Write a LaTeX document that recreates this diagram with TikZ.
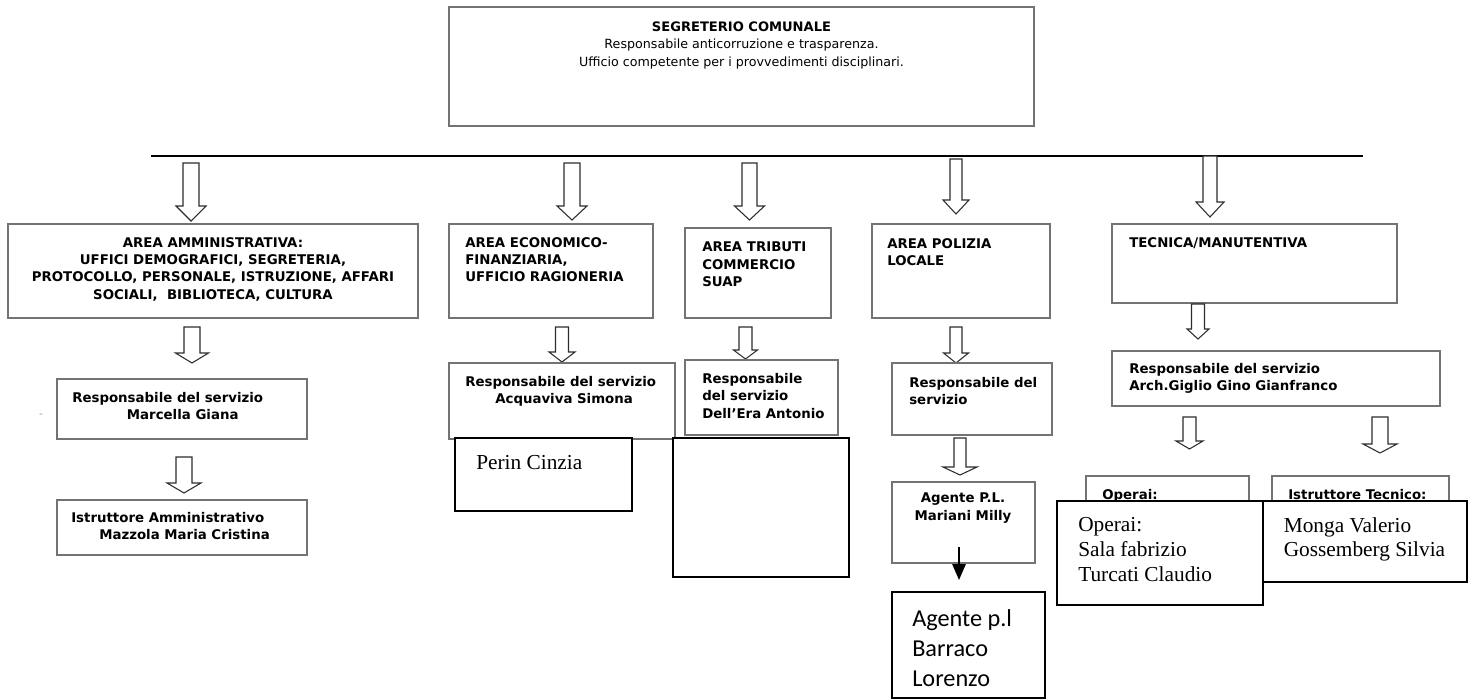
\documentclass[tikz,border=0pt]{standalone}
\usepackage{fontspec}
\setmainfont{DejaVu Sans}
\newfontfamily\tms{Liberation Serif}
\newfontfamily\carl{Carlito}
\usetikzlibrary{fit,arrows.meta}
\definecolor{boxgray}{RGB}{115,115,115}
\definecolor{arrgray}{RGB}{45,45,45}
% x, ytop, ytip, shaft half width, head half width, head height
\newcommand\blockarr[6]{%
  \draw[barrow] ({#1-#4},#2) -- ({#1-#4},{#3-#6}) -- ({#1-#5},{#3-#6}) -- (#1,#3)
    -- ({#1+#5},{#3-#6}) -- ({#1+#4},{#3-#6}) -- ({#1+#4},#2) -- cycle;}
\begin{document}
\begin{tikzpicture}[x=0.75pt,y=-0.75pt,
  thinbox/.style={draw=boxgray,line width=0.9pt,inner sep=0pt,fill=white},
  thickbox/.style={draw=black,line width=1.4pt,inner sep=0pt,fill=white},
  lbl/.style={inner sep=0pt,anchor=north west,align=left,font=\fontsize{10}{13}\selectfont\bfseries},
  clbl/.style={lbl,anchor=north,align=center},
  serif/.style={inner sep=0pt,anchor=north west,align=left,font=\tms\fontsize{16}{18.5}\selectfont},
  barrow/.style={draw=arrgray,line width=0.8pt,fill=white},
]
\useasboundingbox (0,0) rectangle (1469,699);

% top box
\node[thinbox,fit={(449,7)(1034,126)}] (seg) {};
\node[inner sep=0pt,anchor=north,align=center,font=\fontsize{9.5}{13}\selectfont] (segt) at (741.5,21.7)
  {{\fontsize{9.8}{13}\selectfont\bfseries SEGRETERIO COMUNALE}\\Responsabile anticorruzione e trasparenza.\\Ufficio competente per i provvedimenti disciplinari.};

% horizontal line
\coordinate (hl) at (151,156);
\coordinate (hr) at (1363,156);
\draw[line width=1pt] (hl) -- (hr);

% top arrows
\blockarr{191}{163}{221}{8}{15}{15}
\blockarr{572}{163}{220}{8}{15}{14}
\blockarr{749.5}{163}{220}{7.5}{15}{14}
\blockarr{956}{159}{214}{6}{13}{14}
\blockarr{1210}{156}{217}{7}{14}{15}

% level 1
\node[thinbox,fit={(8,224)(418,318)}] (a1) {};
\node[clbl] (a1t) at (213,237) {AREA AMMINISTRATIVA:\\UFFICI DEMOGRAFICI, SEGRETERIA,\\PROTOCOLLO, PERSONALE, ISTRUZIONE, AFFARI\\SOCIALI,\ \ BIBLIOTECA, CULTURA};
\node[thinbox,fit={(449,224)(653,318)}] (b1) {};
\node[lbl] (b1t) at (465,237) {AREA ECONOMICO-\\FINANZIARIA,\\UFFICIO RAGIONERIA};
\node[thinbox,fit={(685,228)(831,318)}] (c1) {};
\node[lbl] (c1t) at (702,242) {AREA TRIBUTI\\COMMERCIO\\SUAP};
\node[thinbox,fit={(872,224)(1050,318)}] (d1) {};
\node[lbl] (d1t) at (887,238) {AREA POLIZIA\\LOCALE};
\node[thinbox,fit={(1112,224)(1397,303)}] (e1) {};
\node[lbl] (e1t) at (1129,237) {TECNICA/MANUTENTIVA};

% level 2 arrows
\blockarr{192}{327}{363}{8}{16.5}{10}
\blockarr{562}{327}{362}{6.5}{13}{10}
\blockarr{745.5}{327}{359}{6.5}{12}{9}
\blockarr{956}{327}{363}{6}{12.5}{10}
\blockarr{1198}{304}{339}{6.5}{11}{10}

% level 2
\node[thinbox,fit={(57,379)(307,439)}] (a2) {};
\node[lbl] (a2t) at (72,392) {Responsabile del servizio\\\hspace*{41pt}Marcella Giana};
\node[inner sep=0pt,text=gray!80,font=\fontsize{8}{9}\selectfont] (dash) at (41,416) {-};
\node[thinbox,fit={(449,363)(675,439)}] (b2) {};
\node[lbl] (b2t) at (465,376) {Responsabile del servizio\\\hspace*{22.5pt}Acquaviva Simona};
\node[thinbox,fit={(685,360)(838,435)}] (c2) {};
\node[lbl] (c2t) at (702,373) {Responsabile\\del servizio\\Dell’Era Antonio};
\node[thinbox,fit={(892,363)(1052,435)}] (d2) {};
\node[lbl] (d2t) at (909,377) {Responsabile del\\servizio};
\node[thinbox,fit={(1112,351)(1440,406)}] (e2) {};
\node[lbl] (e2t) at (1129,363) {Responsabile del servizio\\Arch.Giglio Gino Gianfranco};

% level 3 arrows
\blockarr{184}{457}{493}{8}{17}{10}
\blockarr{960}{438}{475}{6}{17}{8}
\blockarr{1189.5}{417}{449}{6.5}{13.5}{8}
\blockarr{1380}{417}{453}{8}{17}{9}

% level 3
\node[thinbox,fit={(57,500)(307,555)}] (a3) {};
\node[lbl] (a3t) at (71,512) {Istruttore Amministrativo\\\hspace*{21pt}Mazzola Maria Cristina};
\node[thickbox,fit={(455,438)(632,511)}] (perin) {};
\node[serif] (perint) at (476,455) {Perin Cinzia};
\node[thickbox,fit={(673,438)(849,577)}] (c3) {};
\node[thinbox,fit={(892,482)(1035,563)}] (d3) {};
\node[clbl] (d3t) at (963,493) {Agente P.L.\\Mariani Milly};

% black arrow
\coordinate (pa) at (959,547);
\coordinate (pb) at (959,580);
\draw[line width=1.5pt,-{Triangle[width=10pt,length=12pt]}] (pa) -- (pb);

\node[thickbox,fit={(892,592)(1045,698)}] (barr) {};
\node[inner sep=0pt,anchor=north west,align=left,font=\carl\fontsize{18.2}{22.5}\selectfont] (barrt) at (912,609) {Agente p.l\\Barraco\\Lorenzo};

% tecnica sub boxes (covered)
\node[thinbox,fit={(1086,476)(1249,540)}] (opu) {};
\node[lbl] (oput) at (1102,489) {Operai:};
\node[thinbox,fit={(1272,476)(1449,540)}] (itu) {};
\node[lbl] (itut) at (1288,489) {Istruttore Tecnico:};

% covering boxes
\node[thickbox,fit={(1057,501)(1263,605)}] (opo) {};
\node[serif] (opot) at (1078,517.5) {Operai:\\Sala fabrizio\\Turcati Claudio};
\node[thickbox,fit={(1263,501)(1467,582)}] (mvo) {};
\node[serif] (mvot) at (1283.5,517) {Monga Valerio\\Gossemberg Silvia};
\end{tikzpicture}
\end{document}
